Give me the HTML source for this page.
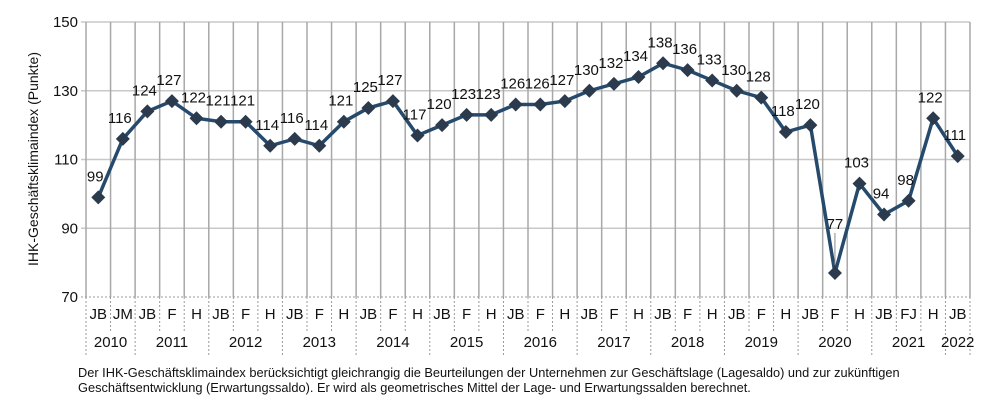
<!DOCTYPE html>
<html><head><meta charset="utf-8"><style>
body{margin:0;background:#fff;}
svg text{font-family:"Liberation Sans",Arial,sans-serif;fill:#111;}
</style></head><body>
<svg width="1000" height="403" viewBox="0 0 1000 403" xmlns="http://www.w3.org/2000/svg">
<g id="g"></g>
</svg>
<script>
const vals=[99,116,124,127,122,121,121,114,116,114,121,125,127,117,120,123,123,126,126,127,130,132,134,138,136,133,130,128,118,120,77,103,94,98,122,111];
const cats=["JB","JM","JB","F","H","JB","F","H","JB","F","H","JB","F","H","JB","F","H","JB","F","H","JB","F","H","JB","F","H","JB","F","H","JB","F","H","JB","FJ","H","JB"];
const years=[["2010",0,2],["2011",2,5],["2012",5,8],["2013",8,11],["2014",11,14],["2015",14,17],["2016",17,20],["2017",20,23],["2018",23,26],["2019",26,29],["2020",29,32],["2021",32,35],["2022",35,36]];
const L=86,R=970,T=22,B=297,n=36,w=(R-L)/n;
const y=v=>B-(v-70)*(B-T)/80, x=i=>L+w*(i+0.5);
let s="";
for(let v=90;v<=150;v+=20)s+=`<line x1="${L-5}" x2="${R}" y1="${y(v)}" y2="${y(v)}" stroke="#c8c8c8" stroke-width="1.5"/>`;
for(let i=0;i<=n;i++){const xx=L+w*i;s+=`<line x1="${xx}" x2="${xx}" y1="${T}" y2="${B}" stroke="#a8a8a8" stroke-width="1.5"/>`;}
s+=`<line x1="${L-5}" x2="${R}" y1="${B}" y2="${B}" stroke="#999" stroke-width="1" stroke-dasharray="2,2"/>`;
for(let v=70;v<=150;v+=20)s+=`<text x="${L-8}" y="${y(v)+5}" font-size="15" text-anchor="end">${v}</text>`;
const yb=new Set(years.map(a=>a[1]));yb.add(36);
for(let i=0;i<=n;i++){const xx=L+w*i;const y2=yb.has(i)?356:331;s+=`<line x1="${xx}" x2="${xx}" y1="${B}" y2="${y2}" stroke="#999" stroke-width="1" stroke-dasharray="2,2"/>`;}
cats.forEach((c,i)=>s+=`<text x="${x(i)}" y="319" font-size="15" text-anchor="middle">${c}</text>`);
years.forEach(a=>s+=`<text x="${L+w*(a[1]+a[2])/2}" y="347" font-size="15" text-anchor="middle">${a[0]}</text>`);
s+=`<text transform="translate(38,159) rotate(-90)" font-size="14" text-anchor="middle">IHK-Geschäftsklimaindex (Punkte)</text>`;
s+=`<polyline fill="none" stroke="#264a6b" stroke-width="3.5" stroke-linejoin="round" points="${vals.map((v,i)=>x(i)+","+y(v)).join(" ")}"/>`;
vals.forEach((v,i)=>{const xx=x(i),yy=y(v);s+=`<polygon points="${xx},${yy-7} ${xx+7},${yy} ${xx},${yy+7} ${xx-7},${yy}" fill="#2b3a4c"/>`;
 if(i==30){s+=`<line x1="${xx}" x2="${xx}" y1="${yy-8}" y2="${yy-40}" stroke="#888" stroke-width="1"/>`;s+=`<text x="${xx}" y="${yy-44}" font-size="15" text-anchor="middle">${v}</text>`;}
 else s+=`<text x="${xx-3}" y="${yy-16}" font-size="15" text-anchor="middle">${v}</text>`;});
s+=`<text x="78" y="377" font-size="12.8">Der IHK-Geschäftsklimaindex berücksichtigt gleichrangig die Beurteilungen der Unternehmen zur Geschäftslage (Lagesaldo) und zur zukünftigen</text>`;
s+=`<text x="78" y="392" font-size="12.8">Geschäftsentwicklung (Erwartungssaldo). Er wird als geometrisches Mittel der Lage- und Erwartungssalden berechnet.</text>`;
document.getElementById("g").innerHTML=s;
</script>
</body></html>
